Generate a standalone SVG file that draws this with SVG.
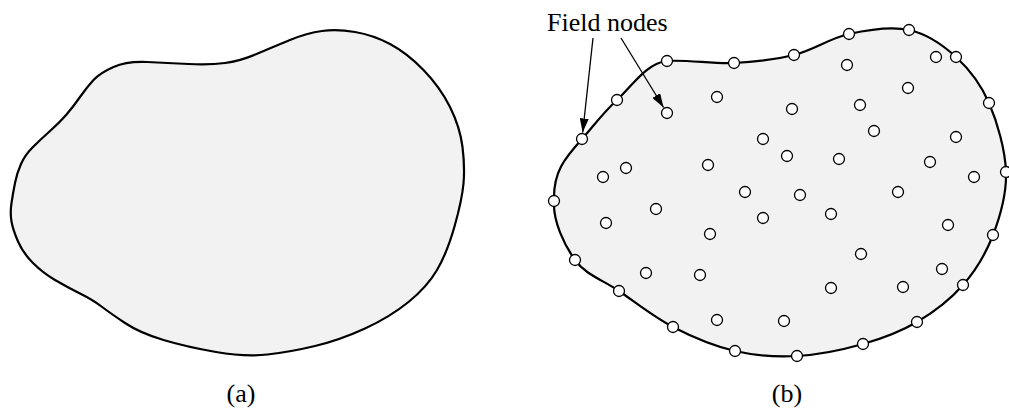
<svg xmlns="http://www.w3.org/2000/svg" width="1009" height="411" viewBox="0 0 1009 411">
  <style>
    .domain { fill: #f2f2f2; stroke: #000; stroke-width: 2.2; stroke-linejoin: round; }
    .node { fill: #fff; stroke: #000; stroke-width: 1.3; }
    .lbl { font-family: "Liberation Serif", "Times New Roman", serif; font-size: 26px; fill: #000; }
    .arrow { stroke: #000; stroke-width: 1.3; fill: none; marker-end: url(#head); }
  </style>
  <defs>
    <marker id="head" markerUnits="userSpaceOnUse" markerWidth="15" markerHeight="9" refX="14" refY="4.5" orient="auto">
      <path d="M0,0 L14,4.5 L0,9 Z" fill="#000"/>
    </marker>
    <circle id="n" r="5.5" class="node"/>
  </defs>
  <rect width="1009" height="411" fill="#fff"/>

  <!-- (a) bare problem domain -->
  <g id="domain-a">
    <path class="domain" d="M113.5,67 Q127,61 147,62 Q167,63 188.5,64 Q210,65 225,63 Q240,61 256.5,54 Q273,47 290,40 Q307,33 322,31 Q337,29 355,32 Q373,35 390,44 Q407,53 423.5,70 Q440,87 450,107 Q460,127 462.5,147 Q465,167 463.5,183.5 Q462,200 454.5,226.5 Q447,253 437,270 Q427,287 408.5,302 Q390,317 365,328.5 Q340,340 315,346 Q290,352 267.5,354.5 Q245,357 216,352 Q187,347 163.5,340 Q140,333 125,323 Q110,313 101.5,306.5 Q93,300 80,293.5 Q67,287 55,280 Q43,273 33,263 Q23,253 18,241.5 Q13,230 11.5,221.5 Q10,213 11.5,203 Q13,193 15,183 Q17,173 21,164 Q25,155 32.5,147.5 Q40,140 50,131 Q60,122 66.5,114.5 Q73,107 80,97 Q87,87 93.5,80 Q100,73 113.5,67 Z"/>
  </g>

  <!-- (b) domain discretised by field nodes -->
  <g id="domain-b">
    <path class="domain" d="M554,201 C553,172 564.5,158.5 582,139 C592.5,127.3 602.8,113 617,100 C631.2,87 647,62.5 667,61 C687,59.5 712.8,64 734,63 C755.2,62 774.8,59.8 794,55 C813.2,50.2 829.8,38.2 849,34 C868.2,29.8 891.2,26.2 909,30 C926.8,33.8 942.7,44.8 956,57 C969.3,69.2 980.7,83.8 989,103 C997.3,122.2 1005.3,150 1006,172 C1006.7,194 1000.2,216.2 993,235 C985.8,253.8 975.7,270.5 963,285 C950.3,299.5 933.7,312.2 917,322 C900.3,331.8 883,338.3 863,344 C843,349.7 818.3,354.8 797,356 C775.7,357.2 755.7,355.8 735,351 C714.3,346.2 692.3,337 673,327 C653.7,317 635.3,302.2 619,291 C602.7,279.8 585.8,275 575,260 C564.2,245 552.8,221.2 554,201 Z"/>
  </g>

  <!-- nodes on the boundary -->
  <g id="boundary-nodes">
    <use href="#n" x="554" y="201"/>
    <use href="#n" x="582" y="139"/>
    <use href="#n" x="617" y="100"/>
    <use href="#n" x="667" y="61"/>
    <use href="#n" x="734" y="63"/>
    <use href="#n" x="794" y="55"/>
    <use href="#n" x="849" y="34"/>
    <use href="#n" x="909" y="30"/>
    <use href="#n" x="956" y="57"/>
    <use href="#n" x="989" y="103"/>
    <use href="#n" x="1006" y="172"/>
    <use href="#n" x="993" y="235"/>
    <use href="#n" x="963" y="285"/>
    <use href="#n" x="917" y="322"/>
    <use href="#n" x="863" y="344"/>
    <use href="#n" x="797" y="356"/>
    <use href="#n" x="735" y="351"/>
    <use href="#n" x="673" y="327"/>
    <use href="#n" x="619" y="291"/>
    <use href="#n" x="575" y="260"/>
  </g>

  <!-- nodes scattered inside the domain -->
  <g id="interior-nodes">
    <use href="#n" x="717" y="97"/>
    <use href="#n" x="667" y="113"/>
    <use href="#n" x="763" y="139"/>
    <use href="#n" x="626" y="168"/>
    <use href="#n" x="603" y="177"/>
    <use href="#n" x="708" y="165"/>
    <use href="#n" x="936" y="57"/>
    <use href="#n" x="847" y="65"/>
    <use href="#n" x="908" y="88"/>
    <use href="#n" x="792" y="109"/>
    <use href="#n" x="860" y="105"/>
    <use href="#n" x="874" y="131"/>
    <use href="#n" x="956" y="137"/>
    <use href="#n" x="787" y="156"/>
    <use href="#n" x="839" y="159"/>
    <use href="#n" x="930" y="162"/>
    <use href="#n" x="974" y="177"/>
    <use href="#n" x="745" y="192"/>
    <use href="#n" x="656" y="209"/>
    <use href="#n" x="763" y="218"/>
    <use href="#n" x="606" y="223"/>
    <use href="#n" x="710" y="234"/>
    <use href="#n" x="646" y="273"/>
    <use href="#n" x="700" y="275"/>
    <use href="#n" x="717" y="320"/>
    <use href="#n" x="800" y="195"/>
    <use href="#n" x="898" y="192"/>
    <use href="#n" x="831" y="214"/>
    <use href="#n" x="948" y="225"/>
    <use href="#n" x="861" y="254"/>
    <use href="#n" x="942" y="269"/>
    <use href="#n" x="831" y="288"/>
    <use href="#n" x="903" y="287"/>
    <use href="#n" x="784" y="321"/>
  </g>

  <!-- leader arrows from the label -->
  <g id="connectors">
    <line class="arrow" x1="593" y1="38" x2="582.7" y2="132.5"/>
    <line class="arrow" x1="621" y1="38" x2="663.6" y2="107.5"/>
  </g>

  <g id="labels">
    <text class="lbl" x="547" y="31">Field nodes</text>
    <text class="lbl" x="241" y="402" text-anchor="middle">(a)</text>
    <text class="lbl" x="787" y="402" text-anchor="middle">(b)</text>
  </g>
</svg>
